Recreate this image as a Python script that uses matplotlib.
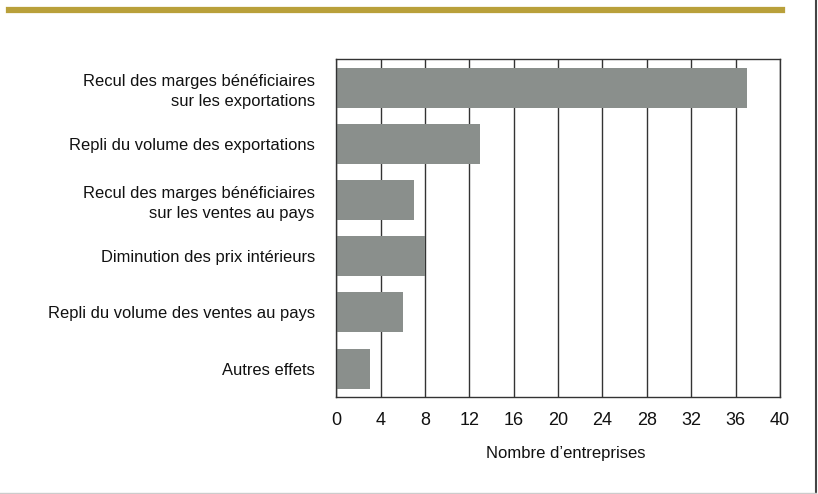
import matplotlib.pyplot as plt
from matplotlib.lines import Line2D

plt.rcParams['font.family'] = ['Liberation Sans', 'DejaVu Sans']

categories = [
    "Recul des marges bénéficiaires\nsur les exportations",
    "Repli du volume des exportations",
    "Recul des marges bénéficiaires\nsur les ventes au pays",
    "Diminution des prix intérieurs",
    "Repli du volume des ventes au pays",
    "Autres effets",
]
values = [37, 13, 7, 8, 6, 3]
xticks = list(range(0, 41, 4))

fig = plt.figure(figsize=(8.18, 4.94), dpi=100)
ax = fig.add_axes([0.4111, 0.1970, 0.5424, 0.6826])

pos = list(range(len(categories)))[::-1]
ax.barh(pos, values, height=0.713, color='#8a8f8c', zorder=2)
ax.set_xlim(0, 40)
ax.set_ylim(-0.5, len(categories) - 0.5)
ax.set_xticks(xticks)
ax.set_yticks(pos)
ax.set_yticklabels(categories, ha='right', multialignment='right', linespacing=1.4)
ax.tick_params(axis='y', length=0, pad=15.5, labelsize=11.9, colors='#111111')
ax.tick_params(axis='x', length=0, pad=11, labelsize=13, colors='#111111')
ax.grid(axis='x', color='#333333', linewidth=1.0, zorder=1)
for s in ax.spines.values():
    s.set_color('#333333')
    s.set_linewidth(1.0)
ax.set_xlabel("Nombre d\u2019entreprises", fontsize=12, labelpad=9.5, color='#111111')
ax.xaxis.set_label_coords(0.518, -0.145)

# decorative frame of the original figure
fig.add_artist(Line2D([0.0106, 0.956], [0.980, 0.980], color='#b9a03a', linewidth=4.5))
fig.add_artist(Line2D([0.998, 0.998], [0.0, 1.0], color='#444444', linewidth=1.5))
fig.add_artist(Line2D([0.0, 0.998], [0.003, 0.003], color='#cccccc', linewidth=1.0))

fig.savefig('out.png', dpi=100)
